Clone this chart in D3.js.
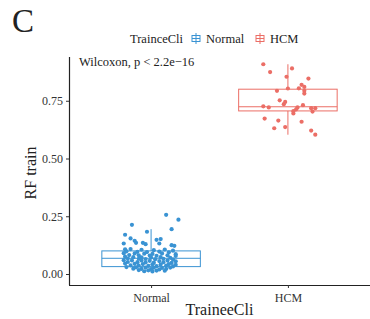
<!DOCTYPE html>
<html lang="en">
<head>
    <meta charset="UTF-8">
    <title>RF train boxplot</title>
    <script src="https://cdnjs.cloudflare.com/ajax/libs/d3/7.8.5/d3.min.js"></script>
    <style>
        body { margin: 0; background: #fff; }
        svg text { font-family: 'Liberation Serif', 'Times New Roman', Times, serif !important; }
    </style>
</head>
<body>
<svg width="370" height="319"></svg>
<script>
    const groups = ["Normal", "HCM"];
    const colors = ["#3A93D3", "#EB6E66"];
    const yTicks = [0.00, 0.25, 0.50, 0.75];

    // box stats: [low whisker, q1, median, q3, high whisker]
    const normalBox = [0.011, 0.032, 0.068, 0.100, 0.194];
    const hcmBox = [0.603, 0.706, 0.724, 0.800, 0.908];

    // jittered points: value and horizontal jitter (fraction of category step)
    const normalValues = [
        0.256, 0.235, 0.213, 0.194, 0.183, 0.170, 0.154, 0.144, 0.135, 0.132, 0.135, 0.129, 0.148, 0.151, 0.132, 0.125, 0.122, 0.107,
        0.108, 0.105, 0.103, 0.106, 0.101,
        0.098, 0.096, 0.095, 0.097, 0.094,
        0.090, 0.089, 0.088, 0.087, 0.089, 0.086,
        0.082, 0.081, 0.080, 0.079, 0.081, 0.078,
        0.075, 0.073, 0.072, 0.071, 0.073, 0.070,
        0.067, 0.066, 0.065, 0.064, 0.066, 0.063,
        0.060, 0.059, 0.058, 0.057, 0.056, 0.058, 0.055,
        0.052, 0.051, 0.050, 0.049, 0.051, 0.048,
        0.045, 0.044, 0.043, 0.042, 0.041, 0.043, 0.040,
        0.037, 0.036, 0.035, 0.034, 0.036, 0.033,
        0.030, 0.029, 0.028, 0.027, 0.026, 0.028,
        0.023, 0.022, 0.021, 0.020, 0.022,
        0.017, 0.016, 0.015, 0.014,
        0.012, 0.011
    ];
    const normalJitter = [
        0.11, 0.20, -0.14, 0.15, -0.03, -0.19, -0.15, -0.12, -0.11, -0.20, -0.06, -0.04, 0.04, 0.07, 0.06, 0.15, 0.17, -0.19,
        -0.15, -0.07, 0.02, 0.10, 0.16,
        -0.18, -0.10, -0.03, 0.06, 0.13,
        -0.20, -0.12, -0.05, 0.01, 0.08, 0.18,
        -0.16, -0.09, -0.01, 0.04, 0.12, 0.18,
        -0.19, -0.13, -0.07, 0.00, 0.07, 0.14,
        -0.17, -0.09, -0.04, 0.03, 0.09, 0.16,
        -0.20, -0.14, -0.07, -0.01, 0.06, 0.12, 0.18,
        -0.17, -0.10, -0.04, 0.02, 0.09, 0.15,
        -0.19, -0.12, -0.06, 0.01, 0.07, 0.13, 0.18,
        -0.15, -0.09, -0.02, 0.04, 0.11, 0.16,
        -0.18, -0.11, -0.04, 0.02, 0.08, 0.14,
        -0.13, -0.07, 0.00, 0.06, 0.11,
        -0.09, -0.02, 0.04, 0.10,
        -0.05, 0.01
    ];
    const hcmValues = [
        0.908, 0.874, 0.890, 0.854, 0.803, 0.846, 0.819, 0.810, 0.804, 0.793, 0.781, 0.793,
        0.752, 0.745, 0.735, 0.731, 0.726, 0.721, 0.721, 0.713, 0.705, 0.695, 0.718, 0.718,
        0.703, 0.673, 0.664, 0.659, 0.636, 0.631, 0.621, 0.603
    ];
    const hcmJitter = [
        -0.18, -0.13, 0.03, -0.01, 0.00, 0.15, 0.10, 0.12, 0.08, 0.12, 0.12, -0.08,
        -0.06, -0.02, -0.03, 0.11, -0.18, -0.14, 0.07, 0.06, 0.04, 0.04, 0.17, 0.20,
        0.18, -0.17, -0.07, 0.10, -0.02, -0.10, 0.17, 0.20
    ];

    const svg = d3.select('svg');
    const mLeft = 69, mRight = 370, mTop = 57, mBottom = 285;

    const x = d3.scalePoint().domain(groups).range([mLeft, mRight]).padding(0.6);
    const y = d3.scaleLinear().domain([-0.0476, 0.9394]).range([mBottom, mTop]);
    const color = d3.scaleOrdinal().domain(groups).range(colors);
    const step = x.step();
    const boxW = step * 0.72;

    // panel letter
    svg.append('text')
        .attr('x', 12).attr('y', 32)
        .attr('font-size', '33px')
        .attr('fill', '#222')
        .text('C');

    // axes
    const yAxis = svg.append('g')
        .attr('transform', `translate(${mLeft},0)`)
        .call(d3.axisLeft(y).tickValues(yTicks).tickFormat(d3.format('.2f')).tickSize(3).tickSizeOuter(0));
    const xAxis = svg.append('g')
        .attr('transform', `translate(0,${mBottom})`)
        .call(d3.axisBottom(x).tickSize(3).tickSizeOuter(0));
    [yAxis, xAxis].forEach(a => {
        a.attr('font-family', null);
        a.select('.domain').attr('stroke', '#222').attr('stroke-width', 1.2);
        a.selectAll('.tick line').attr('stroke', '#333');
        a.selectAll('.tick text')
            .attr('font-size', '12px')
            .attr('fill', '#333');
    });
    yAxis.select('.domain').attr('d', `M0.5,${mTop}V${mBottom}`);
    xAxis.select('.domain').attr('d', `M${mLeft},0.5H${mRight}`);
    xAxis.selectAll('.tick text').attr('dy', '0.95em');

    // axis titles
    svg.append('text')
        .attr('transform', `translate(36,${(mTop + mBottom) / 2 + 2}) rotate(-90)`)
        .attr('text-anchor', 'middle')
        .attr('font-size', '16px')
        .attr('fill', '#222')
        .text('RF train');
    svg.append('text')
        .attr('x', (mLeft + mRight) / 2).attr('y', 315)
        .attr('text-anchor', 'middle')
        .attr('font-size', '16px')
        .attr('fill', '#222')
        .text('TraineeCli');

    // boxes
    const boxes = [normalBox, hcmBox];
    groups.forEach((g, i) => {
        const b = boxes[i];
        const cx = x(g);
        const gg = svg.append('g')
            .attr('stroke', color(g))
            .attr('stroke-width', 1)
            .attr('fill', 'none');
        gg.append('line')
            .attr('x1', cx).attr('x2', cx)
            .attr('y1', y(b[0])).attr('y2', y(b[1]));
        gg.append('line')
            .attr('x1', cx).attr('x2', cx)
            .attr('y1', y(b[3])).attr('y2', y(b[4]));
        gg.append('rect')
            .attr('x', cx - boxW / 2).attr('width', boxW)
            .attr('y', y(b[3])).attr('height', y(b[1]) - y(b[3]));
        gg.append('line')
            .attr('x1', cx - boxW / 2).attr('x2', cx + boxW / 2)
            .attr('y1', y(b[2])).attr('y2', y(b[2]));
    });

    // jittered points
    const pts = [];
    normalValues.forEach((v, i) => pts.push({ g: 'Normal', v: v, j: normalJitter[i] }));
    hcmValues.forEach((v, i) => pts.push({ g: 'HCM', v: v, j: hcmJitter[i] }));
    svg.append('g')
        .selectAll('circle')
        .data(pts)
        .join('circle')
        .attr('cx', d => x(d.g) + d.j * step)
        .attr('cy', d => y(d.v))
        .attr('r', 2.1)
        .attr('fill', d => color(d.g));

    // stat label
    const stat = svg.append('text')
        .attr('x', 79).attr('y', 66)
        .attr('font-size', '12.5px')
        .attr('fill', '#222')
        .text('Wilcoxon, p < 2.2e\u221216');
    // squeeze to the width seen in the reference if the font runs wide
    const statW = stat.node().getComputedTextLength();
    if (statW > 125) stat.attr('textLength', 124).attr('lengthAdjust', 'spacingAndGlyphs');

    // legend
    const legend = svg.append('g');
    legend.append('text')
        .attr('x', 130).attr('y', 43)
        .attr('font-size', '12.5px')
        .attr('fill', '#222')
        .text('TrainceCli');
    const legendX = [196, 260];
    groups.forEach((g, i) => {
        const lx = legendX[i];
        const c = color(g);
        const k = legend.append('g').attr('stroke', c).attr('fill', 'none').attr('stroke-width', 1);
        k.append('line').attr('x1', lx).attr('x2', lx).attr('y1', 33).attr('y2', 44);
        k.append('rect').attr('x', lx - 4).attr('y', 35.5).attr('width', 8).attr('height', 6);
        k.append('line').attr('x1', lx - 4).attr('x2', lx + 4).attr('y1', 38.5).attr('y2', 38.5);
        legend.append('text')
            .attr('x', lx + 10).attr('y', 43)
            .attr('font-size', '12.5px')
            .attr('fill', '#222')
            .text(g);
    });
</script>
</body>
</html>
